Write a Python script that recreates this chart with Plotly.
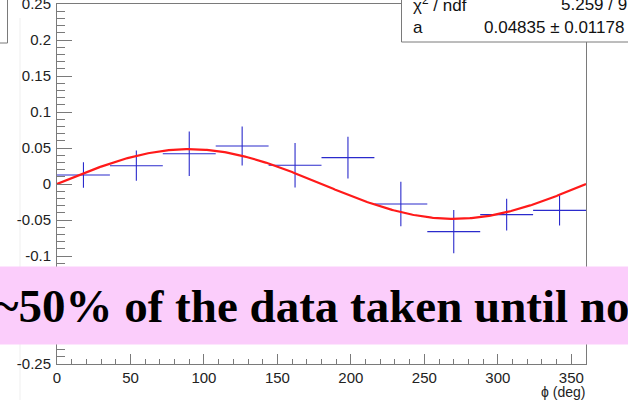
import numpy as np
import plotly.graph_objects as go

# Azimuthal asymmetry per 36-degree phi bin
phi_centers = [18, 54, 90, 126, 162, 198, 234, 270, 306, 342]
phi_halfwidth = [18] * 10
asym = [0.0125, 0.0254, 0.042, 0.0528, 0.026, 0.0366, -0.0278, -0.0662, -0.0426, -0.0366]
asym_err = [0.0176, 0.021, 0.031, 0.027, 0.031, 0.029, 0.031, 0.030, 0.022, 0.021]

# Fit result: A(phi) = a * sin(phi)
fit_a = 0.04835
fit_a_err = 0.01178
chi2, ndf = 5.259, 9

y_ticks = [0.25, 0.2, 0.15, 0.1, 0.05, 0, -0.05, -0.1, -0.15, -0.2, -0.25]
# labels at -0.15 and -0.2 sit under the banner
y_ticktext = ["0.25", "0.2", "0.15", "0.1", "0.05", "0", "-0.05", "-0.1", "", "", "-0.25"]
x_ticks = [0, 50, 100, 150, 200, 250, 300, 350]

W, H = 628, 400
L, R, T, B = 57, 42, 4, 36
PW, PH = W - L - R, H - T - B


def px(x):
    return (x - L) / PW


def py(y):
    return (H - B - y) / PH


phi_fit = np.linspace(0, 360, 361)
asym_fit = fit_a * np.sin(np.radians(phi_fit))

blue = "#2b2bcc"
axis_col = "#7a7a7a"
font_sans = "Liberation Sans, Arial, Helvetica, sans-serif"

fig = go.Figure()
fig.add_trace(go.Scatter(
    x=phi_centers, y=asym, mode="markers",
    marker=dict(size=0.1, color=blue),
    error_x=dict(type="data", array=phi_halfwidth, color=blue, thickness=1.1, width=0),
    error_y=dict(type="data", array=asym_err, color=blue, thickness=1.1, width=0),
    showlegend=False, hoverinfo="skip",
))
fig.add_trace(go.Scatter(
    x=phi_fit, y=asym_fit, mode="lines",
    line=dict(color="#ff1a1a", width=2.2),
    showlegend=False, hoverinfo="skip",
))

fig.update_layout(
    width=W, height=H,
    margin=dict(l=L, r=R, t=T, b=B, autoexpand=False),
    paper_bgcolor="white", plot_bgcolor="white",
    font=dict(family=font_sans, size=15, color="#222"),
)
fig.update_xaxes(
    range=[0, 360], showgrid=False, zeroline=False, automargin=False,
    showline=True, linecolor=axis_col, linewidth=1, mirror=True,
    ticks="inside", ticklen=10, tickcolor=axis_col, tickwidth=1,
    tickvals=x_ticks, tickfont=dict(size=15, color="#222"),
    ticklabelstandoff=0,
    minor=dict(ticks="inside", ticklen=5, dtick=10, tickcolor=axis_col, tickwidth=1),
)
fig.update_yaxes(
    range=[-0.25, 0.25], showgrid=False, zeroline=False, automargin=False,
    showline=True, linecolor=axis_col, linewidth=1, mirror=True,
    ticks="inside", ticklen=15, tickcolor=axis_col, tickwidth=1,
    tickvals=y_ticks, ticktext=y_ticktext, tickfont=dict(size=15, color="#222"),
    ticklabelstandoff=2, ticklabeloverflow="allow",
    minor=dict(ticks="inside", ticklen=8, dtick=0.01, tickcolor=axis_col, tickwidth=1),
)

shapes = [
    # faint pad edge on the left
    dict(type="line", xref="paper", yref="paper", x0=px(20), x1=px(20), y0=py(400), y1=py(18),
         line=dict(color="#efefef", width=1), layer="below"),
    # corner of the neighbouring legend box
    dict(type="rect", xref="paper", yref="paper", x0=px(-5), x1=px(7.5), y0=py(43), y1=py(-5),
         line=dict(color=axis_col, width=1), fillcolor="white", layer="above"),
    # fit statistics box
    dict(type="rect", xref="paper", yref="paper", x0=px(401.5), x1=px(640), y0=py(42), y1=py(-5),
         line=dict(color=axis_col, width=1), fillcolor="white", layer="above"),
    # banner
    dict(type="rect", xref="paper", yref="paper", x0=px(-5), x1=px(640), y0=py(344.5), y1=py(266.5),
         line=dict(width=0), fillcolor="#fbcdfb", layer="above"),
]
fig.update_layout(shapes=shapes)

ann = [
    dict(text="χ<sup>2</sup> / ndf", x=px(411), y=py(4), xanchor="left", yanchor="middle"),
    dict(text=f"{chi2:.3f} / {ndf}", x=px(629), y=py(4), xanchor="right", yanchor="middle"),
    dict(text="a", x=px(411), y=py(28), xanchor="left", yanchor="middle"),
    dict(text=f"{fit_a:.5f} ± {fit_a_err:.5f}", x=px(626), y=py(28), xanchor="right", yanchor="middle"),
    dict(text="ϕ (deg)", x=px(587), y=py(392), xanchor="right", yanchor="middle",
         font=dict(size=14, color="#222", family=font_sans)),
    dict(text="<b>~50% of the data taken until now</b>", x=px(-8), y=py(306), xanchor="left",
         yanchor="middle", font=dict(size=47, color="black", family="Liberation Serif, Times New Roman, serif")),
]
for a in ann:
    a.setdefault("font", dict(size=17, color="#111", family=font_sans))
    a.update(xref="paper", yref="paper", showarrow=False)
fig.update_layout(annotations=ann)

fig.write_html("out.html")
